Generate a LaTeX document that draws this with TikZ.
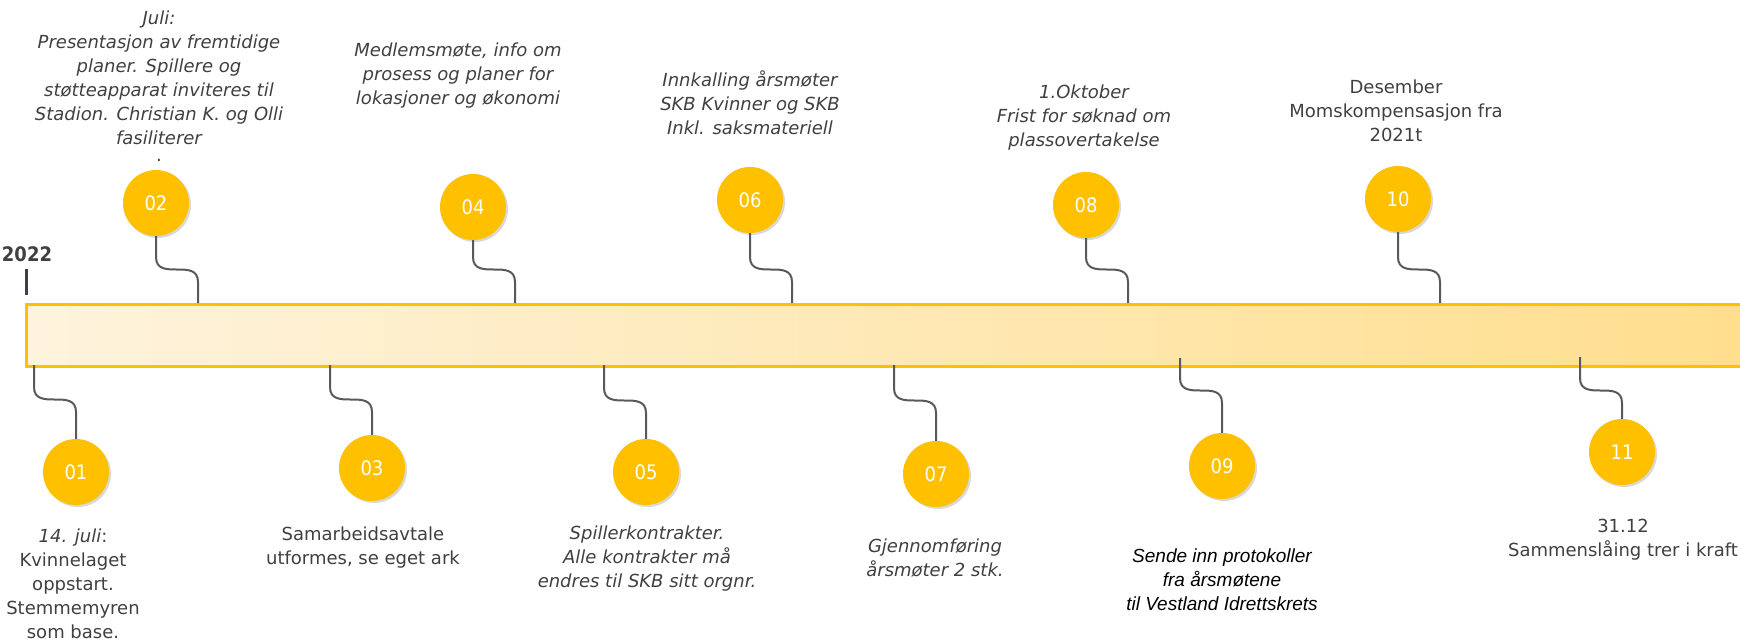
\documentclass[tikz,border=0pt]{standalone}
\usepackage{fontspec}
\setmainfont{DejaVu Sans}
\newfontfamily\numfont{DejaVu Sans Condensed}
\newfontfamily\arialfont{Liberation Sans}
\usepackage{xcolor}
\definecolor{gold}{RGB}{255,192,0}
\definecolor{barlight}{RGB}{254,243,221}
\definecolor{bardark}{RGB}{255,222,140}
\definecolor{textgray}{RGB}{64,64,64}
\definecolor{linkgray}{RGB}{89,89,89}
\usetikzlibrary{shadows}
\tikzset{
  bubble/.style={circle,fill=gold,minimum size=66pt,inner sep=0pt,text=white,
    font=\numfont\fontsize{20}{24}\selectfont,
    drop shadow={shadow xshift=2pt,shadow yshift=-2pt,opacity=0.3}}}
\tikzset{
  link/.style={draw=linkgray,line width=2pt}}
\tikzset{
  note/.style={align=center,text=textgray,font=\fontsize{18}{24}\selectfont},
  inote/.style={note,font=\fontsize{18}{24}\selectfont\itshape}}

\begin{document}
\begin{tikzpicture}[x=1pt,y=-1pt]
    \useasboundingbox (0,0) rectangle (1740,640);
    \node[text=textgray,font=\numfont\fontsize{20}{24}\selectfont\bfseries] (year) at (27,254) {2022};
    \draw[line width=3pt,textgray] (26,269) -- (26,295);
    \node[draw=gold,line width=2.5pt,left color=barlight,right color=bardark,
        minimum width=1760pt,minimum height=62pt,anchor=north west] (bar) at (25,303) {};
    \foreach \n/\x/\y in {02/156/203,04/473/207,06/750/200,08/1086/205,10/1398/199}{
        \coordinate (b\n) at (\x+42,303);
        \node[bubble] (c\n) at (\x,\y) {\n};
        \draw[link] (c\n.south) -- (\x,257) .. controls +(0,25) and +(0,-25) .. (\x+42,282) -- (b\n);
    }
    \foreach \n/\x/\y/\s/\b in {01/76/472/387/365,03/372/468/387/365,05/646/472/388/365,
        07/936/474/388/365,09/1222/466/378/358,11/1622/452/378/357}{
        \coordinate (b\n) at (\x-42,\b);
        \node[bubble] (c\n) at (\x,\y) {\n};
        \draw[link] (b\n) -- (\x-42,\s) .. controls +(0,25) and +(0,-25) .. (\x,\s+25) -- (c\n.north);
    }
    \node[inote] (t02) at (159,78) {Juli:\\Presentasjon av fremtidige\\planer. Spillere og\\støtteapparat inviteres til\\Stadion. Christian K. og Olli\\fasiliterer};
    \node[note] (p02) at (159,160) {.};
    \node[inote] (t04) at (458,76) {Medlemsmøte, info om\\prosess og planer for\\lokasjoner og økonomi};
    \node[inote] (t06) at (750,103) {Innkalling årsmøter\\SKB Kvinner og SKB\\Inkl. saksmateriell};
    \node[inote] (t08) at (1084,118) {1.Oktober\\Frist for søknad om\\plassovertakelse};
    \node[note] (t10) at (1396,111) {Desember\\Momskompensasjon fra\\2021t};
    \node[note] (t01) at (73,584) {\textit{14. juli}:\\Kvinnelaget\\oppstart.\\Stemmemyren\\som base.};
    \node[note] (t03) at (363,548) {Samarbeidsavtale\\utformes, se eget ark};
    \node[inote] (t05) at (647,559) {Spillerkontrakter.\\Alle kontrakter må\\endres til SKB sitt orgnr.};
    \node[inote] (t07) at (935,558) {Gjennomføring\\årsmøter 2 stk.};
    \node[align=center,font=\arialfont\itshape\fontsize{19}{24}\selectfont] (t09) at (1222,580) {Sende inn protokoller\\fra årsmøtene\\til Vestland Idrettskrets};
    \node[note] (t11) at (1623,540) {31.12\\Sammenslåing trer i kraft};
\end{tikzpicture}
\end{document}
